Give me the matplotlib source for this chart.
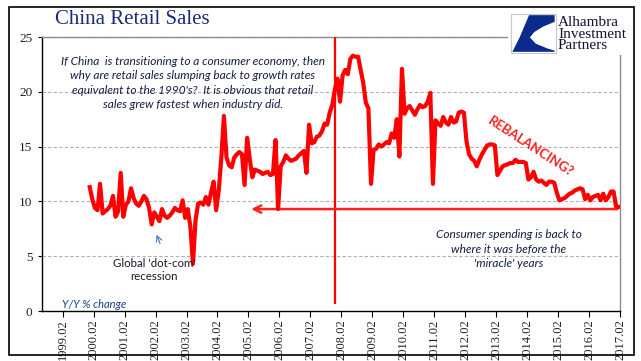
import numpy as np
import matplotlib
matplotlib.use("Agg")
import matplotlib.pyplot as plt
from matplotlib.patches import Rectangle, Polygon, FancyArrowPatch

# China retail sales, Y/Y % change, monthly from Jan 2000 to Feb 2017
y2000 = [11.3, 10.2, 9.4, 9.2, 11.6, 8.9, 9.1, 9.3, 9.6, 10.5, 8.6, 9.1]
y2001 = [12.6, 8.6, 9.7, 10.0, 11.2, 10.3, 9.8, 9.6, 10.0, 10.5, 10.2, 9.4]
y2002 = [7.9, 9.0, 8.6, 8.2, 9.3, 8.7, 8.5, 8.7, 9.0, 9.4, 9.2, 9.1]
y2003 = [10.1, 8.5, 9.3, 7.7, 4.3, 8.3, 9.8, 9.9, 9.7, 10.4, 9.7, 10.8]
y2004 = [11.8, 9.2, 11.0, 14.0, 17.8, 14.0, 13.3, 13.1, 14.0, 14.3, 14.5, 14.3]
y2005 = [11.5, 15.8, 13.9, 12.2, 12.9, 12.8, 12.7, 12.5, 12.6, 12.7, 12.4, 12.5]
y2006 = [15.6, 9.3, 13.2, 13.6, 14.2, 13.9, 13.7, 13.8, 13.9, 14.2, 14.4, 14.6]
y2007 = [12.6, 17.0, 15.3, 15.4, 15.9, 16.0, 16.4, 17.1, 17.0, 18.1, 18.8, 20.2]
y2008 = [21.2, 19.1, 21.5, 22.0, 21.6, 23.0, 23.3, 23.2, 23.2, 22.0, 20.8, 19.0]
y2009 = [18.5, 11.6, 14.7, 14.8, 15.2, 15.0, 15.2, 15.4, 15.3, 16.2, 15.8, 17.5]
y2010 = [14.1, 22.1, 18.0, 18.5, 18.7, 18.3, 17.9, 18.4, 18.8, 18.6, 18.7, 19.1]
y2011 = [19.9, 11.6, 17.4, 17.1, 16.9, 17.7, 17.2, 17.0, 17.7, 17.2, 17.3, 18.1]
y2012 = [18.2, 18.1, 15.5, 14.3, 13.9, 13.7, 13.2, 13.8, 14.3, 14.7, 15.1, 15.2]
y2013 = [15.2, 15.1, 12.4, 12.8, 13.2, 13.3, 13.4, 13.5, 13.5, 13.8, 13.6, 13.6]
y2014 = [13.6, 13.5, 12.0, 12.2, 12.7, 12.0, 11.8, 11.9, 11.7, 11.5, 11.8, 11.8]
y2015 = [11.7, 10.8, 10.1, 10.2, 10.3, 10.5, 10.7, 10.8, 11.0, 11.1, 11.2, 11.1]
y2016 = [10.2, 10.6, 10.1, 10.4, 10.5, 10.6, 10.1, 10.7, 10.1, 10.4, 10.9, 10.9]
y2017 = [9.5, 9.5]

sales = (y2000 + y2001 + y2002 + y2003 + y2004 + y2005 + y2006 + y2007 + y2008
         + y2009 + y2010 + y2011 + y2012 + y2013 + y2014 + y2015 + y2016 + y2017)

# x axis counts months from Feb 1999 (category axis in the original)
months = np.arange(11, 11 + len(sales))
tick_labels = ["%d.02" % yr for yr in range(1999, 2018)]
tick_pos = np.arange(len(tick_labels)) * 12 + 0.5

crisis_month = 106      # Dec 2007 marker
back_to_level = 9.3     # level of the "back to" arrow

W, H = 641, 361
fig = plt.figure(figsize=(W / 100, H / 100), dpi=100)


def fx(x):
    return x / W


def fy(y):
    return 1 - y / H


ax = fig.add_axes([fx(42), fy(311), (620 - 42) / W, (311 - 37) / H])

ax.plot(months, sales, color="#ff0000", lw=3, solid_joinstyle="round", zorder=4)
ax.vlines(crisis_month, 0.6, 25, color="#ff0000", lw=1.6, zorder=3)
ax.annotate("", xy=(72.5, back_to_level), xytext=(216.6, back_to_level),
            arrowprops=dict(arrowstyle="->", color="#ff2020", lw=1.8,
                            mutation_scale=13), zorder=3)

ax.set_xlim(-7.5, 216.5)
ax.set_ylim(0, 25)
ax.set_yticks([0, 5, 10, 15, 20, 25])
ax.set_xticks(tick_pos)
ax.set_xticklabels(tick_labels, rotation=90, family="Liberation Serif",
                   fontsize=9, color="#222222")
for lab in ax.get_yticklabels():
    lab.set_family("Liberation Serif")
    lab.set_fontsize(9.5)
    lab.set_color("#222222")
ax.tick_params(axis="x", length=4, width=0.8, pad=2)
ax.tick_params(axis="y", length=3, width=0.8, pad=4)

ax.yaxis.grid(True, linestyle=(0, (3, 2)), color="#b0b0b0", lw=0.8)
ax.set_axisbelow(True)
for side in ["left", "bottom"]:
    ax.spines[side].set_color("black")
    ax.spines[side].set_linewidth(1)
for side in ["top", "right"]:
    ax.spines[side].set_color("#8c8c8c")
    ax.spines[side].set_linewidth(1)

# texts
fig.text(fx(55), fy(20), "China Retail Sales", family="Liberation Serif",
         fontsize=15, color="#1c2a7a", va="center", ha="left")

fig.text(fx(193), fy(83),
         "If China  is transitioning to a consumer economy, then\n"
         "why are retail sales slumping back to growth rates\n"
         "equivalent to the 1990's?  It is obvious that retail\n"
         "sales grew fastest when industry did.",
         family="Lato", style="italic", fontsize=8.6, color="#141e46",
         ha="center", va="center", linespacing=1.35)

fig.text(fx(509), fy(249),
         "Consumer spending is back to\nwhere it was before the\n'miracle' years",
         family="Lato", style="italic", fontsize=8.6, color="#141e46",
         ha="center", va="center", linespacing=1.35)

fig.text(fx(531), fy(147), "REBALANCING?", family="Lato", weight="bold",
         fontsize=9.5, color="#ff2020", rotation=-33, ha="center", va="center",
         rotation_mode="anchor")

fig.text(fx(154), fy(270), "Global 'dot-com'\nrecession", family="Lato",
         fontsize=8.3, color="#1a1a2a", ha="center", va="center",
         linespacing=1.25)
fig.patches.append(FancyArrowPatch(
    (fx(161), fy(246)), (fx(155.5), fy(232)), transform=fig.transFigure,
    arrowstyle="->", mutation_scale=10, color="#4f81bd", lw=0.9))

fig.text(fx(62), fy(304), "Y/Y % change", family="Lato", style="italic",
         fontsize=8, color="#1f3c88", ha="left", va="center")

# logo area
fig.patches.append(Rectangle((fx(508), fy(55)), fx(632 - 508), (55 - 8) / H,
                             transform=fig.transFigure, facecolor="white",
                             edgecolor="none", zorder=5))
fig.patches.append(Rectangle((fx(511), fy(53)), fx(45), 39 / H,
                             transform=fig.transFigure, facecolor="white",
                             edgecolor="#c8c8c8", lw=0.8, zorder=6))
bx, by, bw, bh = 511, 53, 45, 39
shape = [(0.40, 0.97), (0.97, 0.97), (0.97, 0.80), (0.72, 0.68), (0.52, 0.54),
         (0.42, 0.40), (0.55, 0.24), (0.80, 0.12), (0.97, 0.06), (0.97, 0.03),
         (0.03, 0.03), (0.20, 0.42)]
fig.patches.append(Polygon([(fx(bx + px * bw), fy(by - py * bh)) for px, py in shape],
                           closed=True, transform=fig.transFigure,
                           facecolor="#0a2a8c", edgecolor="none", zorder=7))
fig.text(fx(558), fy(34), "Alhambra\nInvestment\nPartners", family="Liberation Serif",
         fontsize=11, color="#111133", ha="left", va="center",
         linespacing=0.85, zorder=8)

# outer frame
fig.patches.append(Rectangle((fx(9), fy(355)), fx(634 - 9), (355 - 7) / H,
                             transform=fig.transFigure, fill=False,
                             edgecolor="black", lw=1.2, zorder=9))

fig.savefig("out.png", dpi=100)
